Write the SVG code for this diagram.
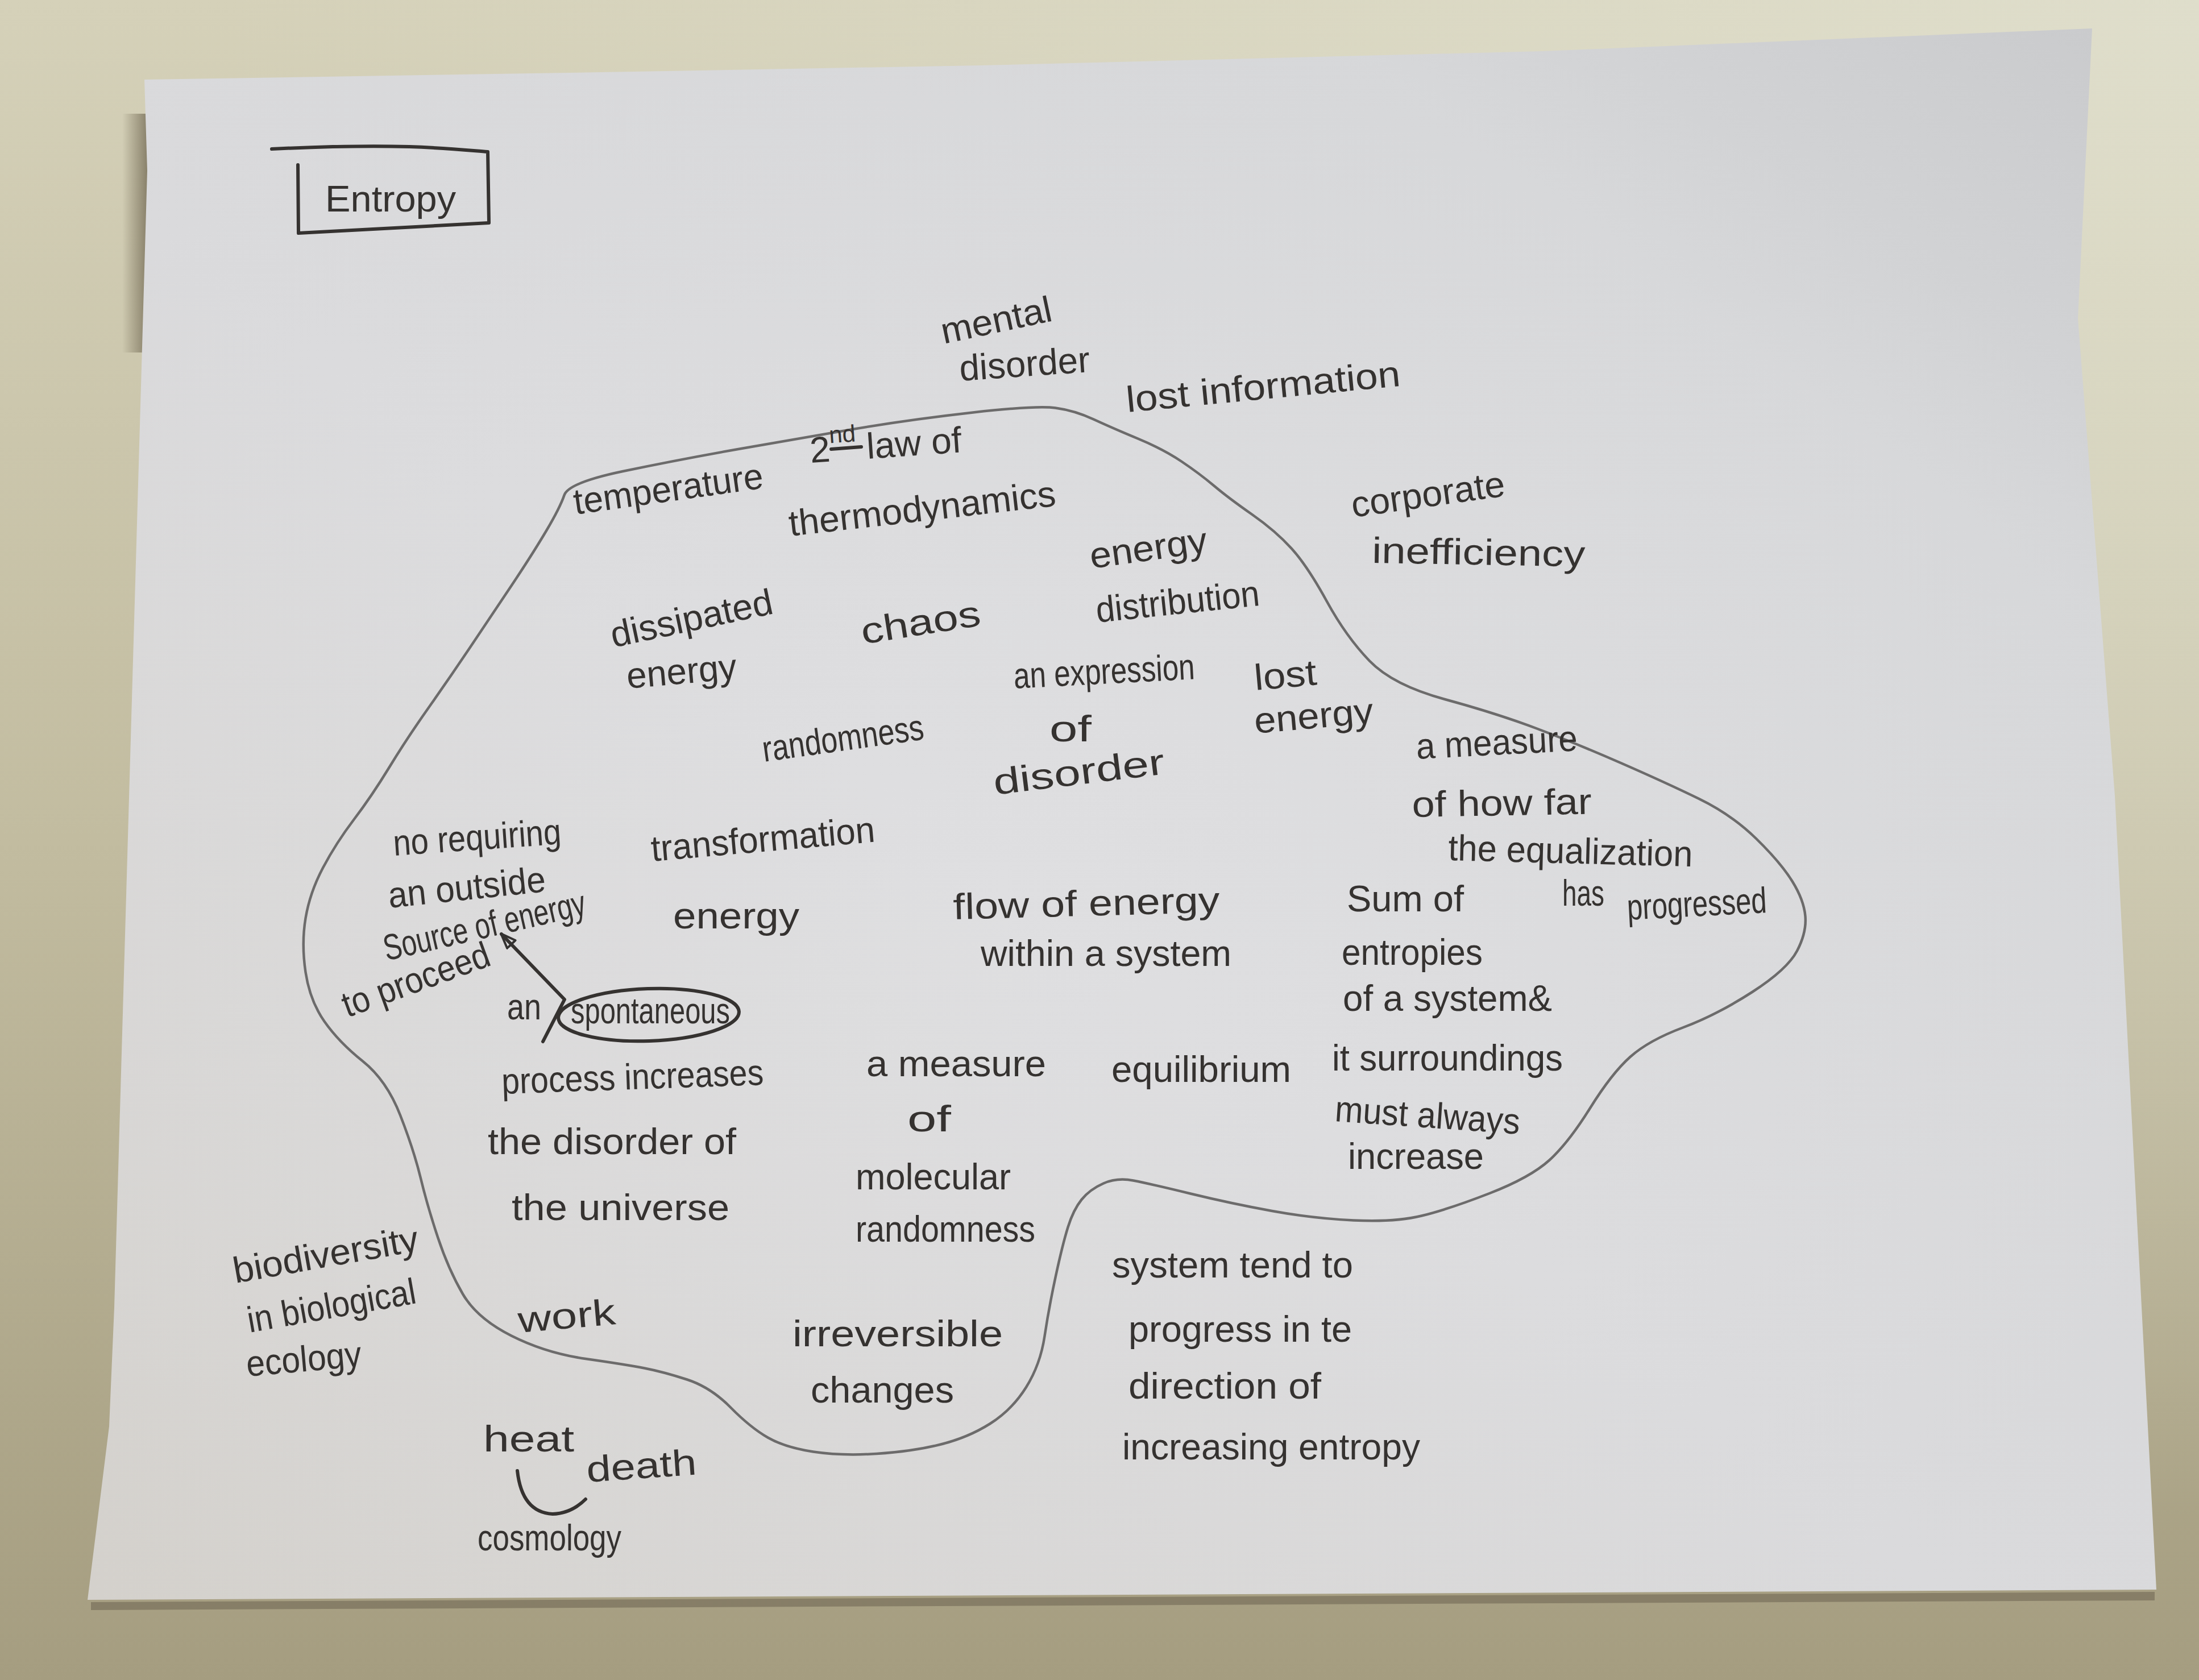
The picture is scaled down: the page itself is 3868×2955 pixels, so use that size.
<svg xmlns="http://www.w3.org/2000/svg" width="3868" height="2955" viewBox="0 0 3868 2955">
  <defs>
    <linearGradient id="wall" x1="0" y1="0" x2="0" y2="1">
      <stop offset="0" stop-color="#d5d1b9"/>
      <stop offset="0.5" stop-color="#c2bca0"/>
      <stop offset="1" stop-color="#a59d80"/>
    </linearGradient>
    <radialGradient id="wallLight" cx="1" cy="0" r="0.9">
      <stop offset="0" stop-color="#e0dfcd" stop-opacity="0.9"/>
      <stop offset="1" stop-color="#e0dfcd" stop-opacity="0"/>
    </radialGradient>
    <linearGradient id="paper" x1="0" y1="1" x2="1" y2="0">
      <stop offset="0" stop-color="#d4d1cc"/>
      <stop offset="0.45" stop-color="#dadadc"/>
      <stop offset="0.8" stop-color="#d6d7d9"/>
      <stop offset="1" stop-color="#c9cacc"/>
    </linearGradient>
    <radialGradient id="glow" cx="0.45" cy="0.55" r="0.6">
      <stop offset="0" stop-color="#e2e2e4" stop-opacity="0.6"/>
      <stop offset="1" stop-color="#e2e2e4" stop-opacity="0"/>
    </radialGradient>
    <linearGradient id="leftShade" x1="0" y1="0" x2="1" y2="0">
      <stop offset="0" stop-color="#6f6650" stop-opacity="0"/>
      <stop offset="1" stop-color="#6f6650" stop-opacity="0.75"/>
    </linearGradient>
    <marker id="openHead" viewBox="0 0 30 24" refX="27" refY="12" markerWidth="30" markerHeight="24" markerUnits="userSpaceOnUse" orient="auto">
      <path d="M2,2 L28,12 L2,22 Z" fill="none" stroke="#333130" stroke-width="4" stroke-linejoin="round"/>
    </marker>
    <style>
      .t { font-family: "Liberation Sans", "DejaVu Sans", sans-serif; fill: #353230; font-size: 64px; }
      .ink { fill: none; stroke: #353230; stroke-width: 6; stroke-linecap: round; stroke-linejoin: round; }
      .pencil { fill: none; stroke: #6c6b6b; stroke-width: 4.5; stroke-linecap: round; stroke-linejoin: round; }
    </style>
  </defs>

  <!-- wall behind the sheet -->
  <rect x="0" y="0" width="3868" height="2955" fill="url(#wall)"/>
  <rect x="0" y="0" width="3868" height="2955" fill="url(#wallLight)"/>
  <rect x="215" y="200" width="45" height="420" fill="url(#leftShade)"/>

  <!-- shadow under the bottom edge -->
  <path d="M160,2818 L3790,2800 L3790,2815 L160,2832 Z" fill="#6c6350" opacity="0.55"/>

  <!-- the sheet of paper -->
  <path id="sheet" d="M254,140 L1000,128 L1727,115 L2714,90 L3680,50 L3655,560 L3720,1400 L3793,2796 L154,2814 L192,2509 L201,2300 L259,300 Z" fill="url(#paper)"/>
  <path d="M254,140 L1000,128 L1727,115 L2714,90 L3680,50 L3655,560 L3720,1400 L3793,2796 L154,2814 L192,2509 L201,2300 L259,300 Z" fill="url(#glow)"/>

  <!-- title box -->
  <g id="title">
    <path class="ink" d="M478,262 C560,258 640,256 720,258 C780,260 820,264 858,267 L860,392 L525,410 L524,290"/>
    <text class="t" x="572" y="372" font-size="85" textLength="230" lengthAdjust="spacingAndGlyphs">Entropy</text>
  </g>

  <!-- pencil outline enclosing the core ideas -->
  <path id="core-outline" class="pencil" d="M992.5,871 Q1000,849 1095.5,829 Q1191,809 1295.5,790.5 Q1400,772 1500,755 Q1600,738 1711.5,725.5 Q1823,713 1856.5,717.5 Q1890,722 1923.5,737.5 Q1957,753 2001.5,771.5 Q2046,790 2078,811.5 Q2110,833 2135.5,854.5 Q2161,876 2202.5,905 Q2244,934 2272,965 Q2300,996 2334,1058 Q2368,1120 2409,1162.5 Q2450,1205 2541.5,1230 Q2633,1255 2702,1281 Q2771,1307 2851,1342 Q2931,1377 2988.5,1405 Q3046,1433 3089,1475 Q3132,1517 3152.5,1550 Q3173,1583 3175.5,1611.5 Q3178,1640 3161,1672.5 Q3144,1705 3082,1745 Q3020,1785 2960,1807.5 Q2900,1830 2867.5,1859 Q2835,1888 2797,1949 Q2759,2010 2725.5,2040.5 Q2692,2071 2620,2099 Q2548,2127 2500.5,2138.5 Q2453,2150 2381,2146.5 Q2309,2143 2237.5,2130 Q2166,2117 2094,2099.5 Q2022,2082 1993.5,2076.5 Q1965,2071 1941,2081.5 Q1917,2092 1902.5,2110 Q1888,2128 1878.5,2158.5 Q1869,2189 1857,2244.5 Q1845,2300 1837.5,2350 Q1830,2400 1805,2440 Q1780,2480 1741,2504.5 Q1702,2529 1653,2541 Q1604,2553 1542,2557 Q1480,2561 1430.5,2553.5 Q1381,2546 1350.5,2528.5 Q1320,2511 1285,2475.5 Q1250,2440 1208.5,2426.5 Q1167,2413 1133.5,2406.5 Q1100,2400 1030,2390 Q960,2380 899.5,2349.5 Q839,2319 814,2276 Q789,2233 770.5,2177.5 Q752,2122 740,2072.5 Q728,2023 704,1961.5 Q680,1900 638,1866.5 Q596,1833 570.5,1796.5 Q545,1760 537.5,1710 Q530,1660 537.5,1615 Q545,1570 568,1526.5 Q591,1483 622.5,1441.5 Q654,1400 684.5,1350 Q715,1300 752,1247.5 Q789,1195 826,1140 Q863,1085 900,1029.5 Q937,974 961,933.5 Q985,893 992.5,871 Z"/>

  <!-- connectors -->
  <g id="connectors">
    <polyline class="ink" points="955,1832 993,1758 882,1643" marker-end="url(#openHead)" stroke-width="5"/>
    <path class="ink" d="M910,2587 Q918,2660 972,2663 Q1005,2662 1030,2637" stroke-width="5"/>
  </g>

  <!-- outside the outline -->
  <g id="mental-disorder">
    <text class="t" x="1660" y="605" font-size="68" textLength="198" lengthAdjust="spacingAndGlyphs" transform="rotate(-12 1660 605)">mental</text>
    <text class="t" x="1689" y="670" font-size="64" textLength="230" lengthAdjust="spacingAndGlyphs" transform="rotate(-4 1689 670)">disorder</text>
  </g>
  <g id="lost-information">
    <text class="t" x="1983" y="725" font-size="72" textLength="484" lengthAdjust="spacingAndGlyphs" transform="rotate(-5.5 1983 725)">lost information</text>
  </g>
  <g id="corporate-inefficiency">
    <text class="t" x="2380" y="910" font-size="70" textLength="272" lengthAdjust="spacingAndGlyphs" transform="rotate(-8 2380 910)">corporate</text>
    <text class="t" x="2413" y="990" font-size="70" textLength="375" lengthAdjust="spacingAndGlyphs" transform="rotate(1 2413 990)">inefficiency</text>
  </g>
  <g id="biodiversity">
    <text class="t" x="414" y="2257" font-size="56" textLength="330" lengthAdjust="spacingAndGlyphs" transform="rotate(-10 414 2257)">biodiversity</text>
    <text class="t" x="439" y="2344" font-size="54" textLength="300" lengthAdjust="spacingAndGlyphs" transform="rotate(-10 439 2344)">in biological</text>
    <text class="t" x="435" y="2421" font-size="62" textLength="203" lengthAdjust="spacingAndGlyphs" transform="rotate(-5 435 2421)">ecology</text>
  </g>
  <g id="heat-death">
    <text class="t" x="850" y="2553" font-size="85" textLength="160" lengthAdjust="spacingAndGlyphs">heat</text>
    <text class="t" x="1033" y="2607" font-size="80" textLength="194" lengthAdjust="spacingAndGlyphs" transform="rotate(-4 1033 2607)">death</text>
  </g>
  <g id="cosmology">
    <text class="t" x="840" y="2727" font-size="62" textLength="253" lengthAdjust="spacingAndGlyphs">cosmology</text>
  </g>
  <g id="system-tend">
    <text class="t" x="1956" y="2247" font-size="62" textLength="424" lengthAdjust="spacingAndGlyphs">system tend to</text>
    <text class="t" x="1985" y="2360" font-size="66" textLength="393" lengthAdjust="spacingAndGlyphs">progress in te</text>
    <text class="t" x="1985" y="2460" font-size="66" textLength="339" lengthAdjust="spacingAndGlyphs">direction of</text>
    <text class="t" x="1974" y="2567" font-size="68" textLength="524" lengthAdjust="spacingAndGlyphs">increasing entropy</text>
  </g>

  <!-- inside the outline -->
  <g id="temperature">
    <text class="t" x="1012" y="905" font-size="62" textLength="336" lengthAdjust="spacingAndGlyphs" transform="rotate(-8 1012 905)">temperature</text>
  </g>
  <g id="second-law">
    <text class="t" x="1426" y="814" font-size="65" transform="rotate(-4 1426 814)">2<tspan font-size="42" dy="-32">nd</tspan><tspan dy="32"> law of</tspan></text>
    <line class="ink" x1="1462" y1="790" x2="1515" y2="786" stroke-width="4"/>
    <text class="t" x="1390" y="943" font-size="72" textLength="472" lengthAdjust="spacingAndGlyphs" transform="rotate(-6.5 1390 943)">thermodynamics</text>
  </g>
  <g id="energy-distribution">
    <text class="t" x="1920" y="1000" font-size="62" textLength="208" lengthAdjust="spacingAndGlyphs" transform="rotate(-8 1920 1000)">energy</text>
    <text class="t" x="1930" y="1095" font-size="66" textLength="289" lengthAdjust="spacingAndGlyphs" transform="rotate(-6 1930 1095)">distribution</text>
  </g>
  <g id="dissipated-energy">
    <text class="t" x="1079" y="1139" font-size="66" textLength="290" lengthAdjust="spacingAndGlyphs" transform="rotate(-12 1079 1139)">dissipated</text>
    <text class="t" x="1104" y="1211" font-size="66" textLength="194" lengthAdjust="spacingAndGlyphs" transform="rotate(-5 1104 1211)">energy</text>
  </g>
  <g id="chaos">
    <text class="t" x="1518" y="1133" font-size="100" textLength="212" lengthAdjust="spacingAndGlyphs" transform="rotate(-9 1518 1133)">chaos</text>
  </g>
  <g id="expression-of-disorder">
    <text class="t" x="1784" y="1211" font-size="56" textLength="319" lengthAdjust="spacingAndGlyphs" transform="rotate(-3 1784 1211)">an expression</text>
    <text class="t" x="1846" y="1304" font-size="90" textLength="74" lengthAdjust="spacingAndGlyphs">of</text>
    <text class="t" x="1750" y="1398" font-size="85" textLength="303" lengthAdjust="spacingAndGlyphs" transform="rotate(-7 1750 1398)">disorder</text>
  </g>
  <g id="randomness">
    <text class="t" x="1344" y="1340" font-size="58" textLength="286" lengthAdjust="spacingAndGlyphs" transform="rotate(-8 1344 1340)">randomness</text>
  </g>
  <g id="lost-energy">
    <text class="t" x="2208" y="1214" font-size="62" textLength="110" lengthAdjust="spacingAndGlyphs" transform="rotate(-5 2208 1214)">lost</text>
    <text class="t" x="2208" y="1290" font-size="68" textLength="210" lengthAdjust="spacingAndGlyphs" transform="rotate(-5 2208 1290)">energy</text>
  </g>
  <g id="equalization">
    <text class="t" x="2492" y="1335" font-size="60" textLength="284" lengthAdjust="spacingAndGlyphs" transform="rotate(-3 2492 1335)">a measure</text>
    <text class="t" x="2484" y="1437" font-size="66" textLength="316" lengthAdjust="spacingAndGlyphs" transform="rotate(-1 2484 1437)">of how far</text>
    <text class="t" x="2547" y="1513" font-size="62" textLength="430" lengthAdjust="spacingAndGlyphs" transform="rotate(1.5 2547 1513)">the equalization</text>
    <text class="t" x="2748" y="1593" font-size="52" textLength="74" lengthAdjust="spacingAndGlyphs">has</text>
    <text class="t" x="2863" y="1618" font-size="64" textLength="246" lengthAdjust="spacingAndGlyphs" transform="rotate(-3 2863 1618)">progressed</text>
  </g>
  <g id="sum-of-entropies">
    <text class="t" x="2369" y="1603" font-size="60" textLength="206" lengthAdjust="spacingAndGlyphs">Sum of</text>
    <text class="t" x="2360" y="1697" font-size="62" textLength="248" lengthAdjust="spacingAndGlyphs">entropies</text>
    <text class="t" x="2362" y="1778" font-size="66" textLength="368" lengthAdjust="spacingAndGlyphs">of a system&amp;</text>
    <text class="t" x="2343" y="1883" font-size="66" textLength="406" lengthAdjust="spacingAndGlyphs">it surroundings</text>
    <text class="t" x="2347" y="1972" font-size="62" textLength="326" lengthAdjust="spacingAndGlyphs" transform="rotate(4 2347 1972)">must always</text>
    <text class="t" x="2371" y="2056" font-size="64" textLength="239" lengthAdjust="spacingAndGlyphs">increase</text>
  </g>
  <g id="no-outside-source">
    <text class="t" x="693" y="1505" font-size="54" textLength="296" lengthAdjust="spacingAndGlyphs" transform="rotate(-4 693 1505)">no requiring</text>
    <text class="t" x="685" y="1597" font-size="56" textLength="278" lengthAdjust="spacingAndGlyphs" transform="rotate(-6 685 1597)">an outside</text>
    <text class="t" x="680" y="1690" font-size="58" textLength="363" lengthAdjust="spacingAndGlyphs" transform="rotate(-13 680 1690)">Source of energy</text>
    <text class="t" x="611" y="1790" font-size="56" textLength="272" lengthAdjust="spacingAndGlyphs" transform="rotate(-20 611 1790)">to proceed</text>
  </g>
  <g id="spontaneous">
    <text class="t" x="892" y="1793" font-size="58" textLength="60" lengthAdjust="spacingAndGlyphs">an</text>
    <ellipse class="ink" cx="1141" cy="1785" rx="159" ry="46" transform="rotate(-2 1141 1785)" stroke-width="5"/>
    <text class="t" x="1004" y="1800" font-size="56" textLength="280" lengthAdjust="spacingAndGlyphs">spontaneous</text>
  </g>
  <g id="transformation-energy">
    <text class="t" x="1147" y="1515" font-size="64" textLength="395" lengthAdjust="spacingAndGlyphs" transform="rotate(-5 1147 1515)">transformation</text>
    <text class="t" x="1184" y="1633" font-size="66" textLength="222" lengthAdjust="spacingAndGlyphs">energy</text>
  </g>
  <g id="flow-of-energy">
    <text class="t" x="1677" y="1617" font-size="66" textLength="469" lengthAdjust="spacingAndGlyphs" transform="rotate(-1.5 1677 1617)">flow of energy</text>
    <text class="t" x="1725" y="1699" font-size="58" textLength="441" lengthAdjust="spacingAndGlyphs">within a system</text>
  </g>
  <g id="process-increases">
    <text class="t" x="883" y="1924" font-size="60" textLength="461" lengthAdjust="spacingAndGlyphs" transform="rotate(-2 883 1924)">process increases</text>
    <text class="t" x="858" y="2030" font-size="60" textLength="437" lengthAdjust="spacingAndGlyphs">the disorder of</text>
    <text class="t" x="900" y="2146" font-size="60" textLength="383" lengthAdjust="spacingAndGlyphs">the universe</text>
  </g>
  <g id="molecular-randomness">
    <text class="t" x="1524" y="1893" font-size="62" textLength="316" lengthAdjust="spacingAndGlyphs">a measure</text>
    <text class="t" x="1596" y="1990" font-size="70" textLength="77" lengthAdjust="spacingAndGlyphs">of</text>
    <text class="t" x="1505" y="2092" font-size="62" textLength="273" lengthAdjust="spacingAndGlyphs">molecular</text>
    <text class="t" x="1505" y="2184" font-size="62" textLength="316" lengthAdjust="spacingAndGlyphs">randomness</text>
  </g>
  <g id="equilibrium">
    <text class="t" x="1955" y="1903" font-size="64" textLength="316" lengthAdjust="spacingAndGlyphs">equilibrium</text>
  </g>
  <g id="work">
    <text class="t" x="913" y="2344" font-size="62" textLength="172" lengthAdjust="spacingAndGlyphs" transform="rotate(-5 913 2344)">work</text>
  </g>
  <g id="irreversible-changes">
    <text class="t" x="1394" y="2368" font-size="70" textLength="370" lengthAdjust="spacingAndGlyphs">irreversible</text>
    <text class="t" x="1426" y="2467" font-size="70" textLength="252" lengthAdjust="spacingAndGlyphs">changes</text>
  </g>
</svg>
